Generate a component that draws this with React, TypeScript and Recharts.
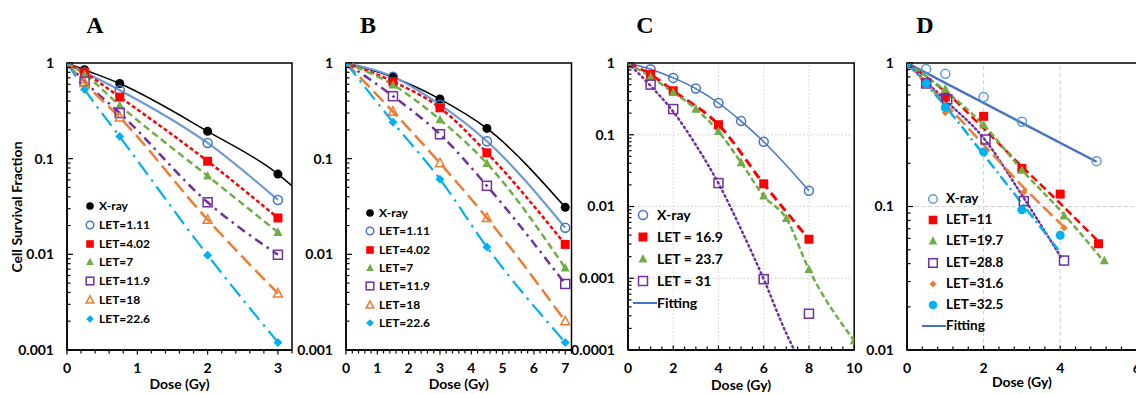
import React from 'react';
import { ComposedChart, Line, Scatter, XAxis, YAxis, ReferenceArea, ReferenceLine } from 'recharts';

type Pt = { x: number; y: number };
type Kind = 'dot' | 'ring' | 'square' | 'box' | 'tri' | 'otri' | 'diamond' | 'sdiamond';

// ---- panel A ----
const doseA = [0, 0.25, 0.75, 2, 3];
const aXray = [1, 0.85, 0.61, 0.193, 0.069];
const aXrayFitDose = [0, 0.25, 0.75, 2, 3, 3.2];
const aXrayFit = [1, 0.85, 0.61, 0.193, 0.069, 0.052];
const aLet111 = [1, 0.8, 0.52, 0.146, 0.037];
const aLet402 = [1, 0.79, 0.44, 0.094, 0.024];
const aLet7 = [1, 0.76, 0.36, 0.066, 0.017];
const aLet119 = [1, 0.64, 0.3, 0.035, 0.0099];
const aLet18 = [1, 0.62, 0.27, 0.023, 0.0039];
const aLet226 = [1, 0.53, 0.17, 0.0098, 0.0012];

// ---- panel B ----
const doseB = [0, 1.5, 3, 4.5, 7];
const bXray = [1, 0.71, 0.42, 0.207, 0.031];
const bLet111 = [1, 0.72, 0.367, 0.152, 0.019];
const bLet402 = [1, 0.64, 0.34, 0.115, 0.0127];
const bLet7 = [1, 0.59, 0.256, 0.089, 0.0072];
const bLet119 = [1, 0.45, 0.18, 0.052, 0.0049];
const bLet18 = [1, 0.31, 0.09, 0.024, 0.002];
const bLet226 = [1, 0.24, 0.061, 0.0119, 0.0012];

// ---- panel C ----
const cXrayDose = [0, 1, 2, 3, 4, 5, 6, 8];
const cXray = [1, 0.82, 0.62, 0.44, 0.277, 0.155, 0.08, 0.0166];
const cLet169Dose = [0, 1, 2, 4, 6, 8];
const cLet169 = [1, 0.69, 0.41, 0.138, 0.0207, 0.0035];
const cLet237Dose = [0, 1, 2, 3, 4, 5, 6, 7, 8, 10];
const cLet237 = [1, 0.64, 0.39, 0.228, 0.111, 0.041, 0.014, 0.0068, 0.00133, 0.000135];
const cLet31Dose = [0, 1, 2, 4, 6, 8];
const cLet31 = [1, 0.5, 0.228, 0.0212, 0.00097, 0.00032];
const cLet31FitDose = [0, 1, 2, 3, 4, 5, 6, 7, 7.35];
const cLet31Fit = [1, 0.48, 0.21, 0.072, 0.021, 0.0048, 0.00097, 0.00017, 0.0001];

// ---- panel D ----
const dXrayDose = [0, 0.5, 1, 2, 3, 4.95];
const dXray = [1, 0.91, 0.84, 0.58, 0.39, 0.207];
const dXrayFitDose = [0, 4.95];
const dXrayFit = [1, 0.205];
const dLet11Dose = [0, 0.5, 1, 2, 3, 4, 5];
const dLet11 = [1, 0.73, 0.58, 0.425, 0.184, 0.122, 0.055];
const dLet11FitDose = [0, 1, 2, 3, 4, 5];
const dLet11Fit = [1, 0.63, 0.35, 0.19, 0.105, 0.057];
const dLet197Dose = [0, 0.5, 1, 2, 3, 4.1, 5.15];
const dLet197 = [1, 0.74, 0.66, 0.37, 0.179, 0.086, 0.042];
const dLet197FitDose = [0, 1, 2, 3, 4.1, 5.15];
const dLet197Fit = [1, 0.64, 0.37, 0.18, 0.088, 0.041];
const dLet288Dose = [0, 0.5, 1.05, 2.05, 3.05, 4.1];
const dLet288 = [1, 0.72, 0.56, 0.293, 0.109, 0.042];
const dLet288FitDose = [0, 1, 2, 3, 4.05];
const dLet288Fit = [1, 0.55, 0.3, 0.12, 0.043];
const dLet316Dose = [0, 0.5, 1, 3.05, 4.1];
const dLet316 = [1, 0.72, 0.45, 0.126, 0.071];
const dLet316FitDose = [0, 1, 2, 3, 4.15];
const dLet316Fit = [1, 0.52, 0.27, 0.14, 0.07];
const dLet325Dose = [0, 0.5, 1, 2, 3, 4];
const dLet325 = [1, 0.72, 0.49, 0.24, 0.095, 0.063];
const dLet325FitDose = [0, 1, 2, 3, 3.95];
const dLet325Fit = [1, 0.5, 0.23, 0.105, 0.05];

const zip = (xs: number[], ys: number[]): Pt[] => xs.map((x, i) => ({ x, y: ys[i] }));

const FONT = 'Lato, "Open Sans", sans-serif';
const TOP = 63;
const BOTTOM = 350;
const YW = 60;
const RM = 14; // extra room right of the plot so the last tick label is not clipped

const BLACK = '#000000';
const RED = '#ff0000';
const GREEN = '#70ad47';
const PURPLE = '#7030a0';
const ORANGE = '#ed7d31';
const CYAN = '#00b0f0';
const FITBLUE = '#4472c4';

interface Series {
  name: string;
  color: string;
  marker: Kind;
  pts: Pt[];
  fit?: Pt[];
  dash?: string;
  width?: number;
  lineColor?: string;
}

interface Panel {
  letter: string;
  letterX: number;
  left: number;
  right: number;
  xMax: number;
  xMajor: number[];
  xStep: number;
  yMin: number;
  ticksIn: boolean;
  labelOffset: number;
  series: Series[];
  gridX?: number[];
  gridY?: number[];
  gridDash?: string;
  legend: { mx: number; tx: number; y: number; gap: number; font: number; size: number; fitting?: string };
}

const abSeries = (dose: number[], v: number[][], xrayFit?: Pt[]): Series[] => [
  { name: 'X-ray', color: BLACK, marker: 'dot', pts: zip(dose, v[0]), fit: xrayFit, width: 1.5 },
  { name: 'LET=1.11', color: '#4472c4', lineColor: '#6a9bd8', marker: 'ring', pts: zip(dose, v[1]), width: 2.2 },
  { name: 'LET=4.02', color: RED, marker: 'square', pts: zip(dose, v[2]), dash: '4 2.5', width: 2.5 },
  { name: 'LET=7', color: GREEN, marker: 'tri', pts: zip(dose, v[3]), dash: '7 4', width: 2.5 },
  { name: 'LET=11.9', color: PURPLE, marker: 'box', pts: zip(dose, v[4]), dash: '9 5 2.5 5', width: 2.5 },
  { name: 'LET=18', color: ORANGE, marker: 'otri', pts: zip(dose, v[5]), dash: '14 6', width: 2.5 },
  { name: 'LET=22.6', color: CYAN, marker: 'diamond', pts: zip(dose, v[6]), dash: '16 6 2.5 6', width: 2.2 },
];

const panels: Panel[] = [
  {
    letter: 'A', letterX: 95, left: 67, right: 292, xMax: 3.2, xMajor: [0, 1, 2, 3], xStep: 0.2,
    yMin: 0.001, ticksIn: false, labelOffset: 5,
    series: abSeries(doseA, [aXray, aLet111, aLet402, aLet7, aLet119, aLet18, aLet226], zip(aXrayFitDose, aXrayFit)),
    legend: { mx: 90, tx: 99, y: 206, gap: 18.8, font: 12, size: 3.8 },
  },
  {
    letter: 'B', letterX: 368, left: 345.5, right: 571, xMax: 7.2, xMajor: [0, 1, 2, 3, 4, 5, 6, 7], xStep: 0.2,
    yMin: 0.001, ticksIn: false, labelOffset: 5,
    series: abSeries(doseB, [bXray, bLet111, bLet402, bLet7, bLet119, bLet18, bLet226]),
    legend: { mx: 370, tx: 379, y: 213, gap: 18.3, font: 12, size: 3.8 },
  },
  {
    letter: 'C', letterX: 645, left: 628.3, right: 854.5, xMax: 10, xMajor: [0, 2, 4, 6, 8, 10], xStep: 0.5,
    yMin: 0.0001, ticksIn: true, labelOffset: 4,
    gridX: [2, 4, 6, 8], gridY: [0.1, 0.01, 0.001], gridDash: '1.5 2',
    series: [
      { name: 'X-ray', color: FITBLUE, marker: 'ring', pts: zip(cXrayDose, cXray), width: 1.5 },
      { name: 'LET = 16.9', color: RED, marker: 'square', pts: zip(cLet169Dose, cLet169), dash: '9 5', width: 3 },
      { name: 'LET = 23.7', color: GREEN, marker: 'tri', pts: zip(cLet237Dose, cLet237), dash: '6 3', width: 2.5 },
      { name: 'LET = 31', color: PURPLE, marker: 'box', pts: zip(cLet31Dose, cLet31), fit: zip(cLet31FitDose, cLet31Fit), dash: '1.5 3.5', width: 2.5 },
    ],
    legend: { mx: 643, tx: 657, y: 215, gap: 22, font: 14, size: 4.5, fitting: FITBLUE },
  },
  {
    letter: 'D', letterX: 925, left: 906.7, right: 1136.5, xMax: 6, xMajor: [0, 2, 4, 6], xStep: 0.4,
    yMin: 0.01, ticksIn: true, labelOffset: 7,
    gridX: [2, 4], gridY: [0.1], gridDash: '4 3',
    series: [
      { name: 'X-ray', color: '#5b9bd5', lineColor: FITBLUE, marker: 'ring', pts: zip(dXrayDose, dXray), fit: zip(dXrayFitDose, dXrayFit), width: 2.5 },
      { name: 'LET=11', color: RED, marker: 'square', pts: zip(dLet11Dose, dLet11), fit: zip(dLet11FitDose, dLet11Fit), dash: '8 4', width: 2.5 },
      { name: 'LET=19.7', color: GREEN, marker: 'tri', pts: zip(dLet197Dose, dLet197), fit: zip(dLet197FitDose, dLet197Fit), dash: '6 3', width: 2.5 },
      { name: 'LET=28.8', color: PURPLE, marker: 'box', pts: zip(dLet288Dose, dLet288), fit: zip(dLet288FitDose, dLet288Fit), dash: '1.5 3', width: 2.5 },
      { name: 'LET=31.6', color: ORANGE, marker: 'sdiamond', pts: zip(dLet316Dose, dLet316), fit: zip(dLet316FitDose, dLet316Fit), dash: '13 5', width: 2.5 },
      { name: 'LET=32.5', color: CYAN, marker: 'dot', pts: zip(dLet325Dose, dLet325), fit: zip(dLet325FitDose, dLet325Fit), dash: '11 4 2 4', width: 2.5 },
    ],
    legend: { mx: 933, tx: 946, y: 199, gap: 21.2, font: 13.5, size: 4.3, fitting: FITBLUE },
  },
];

function Mark({ kind, color, cx, cy, s = 4.5 }: { kind: Kind; color: string; cx: number; cy: number; s?: number }) {
  const sw = 1.5;
  switch (kind) {
    case 'dot':
      return <circle cx={cx} cy={cy} r={s} fill={color} />;
    case 'ring':
      return <circle cx={cx} cy={cy} r={s} fill="none" stroke={color} strokeWidth={sw} />;
    case 'square':
      return <rect x={cx - s} y={cy - s} width={2 * s} height={2 * s} fill={color} />;
    case 'box':
      return <rect x={cx - s} y={cy - s} width={2 * s} height={2 * s} fill="none" stroke={color} strokeWidth={sw} />;
    case 'tri':
    case 'otri': {
      const pts = `${cx},${cy - s * 1.1} ${cx + s},${cy + s * 0.8} ${cx - s},${cy + s * 0.8}`;
      return kind === 'tri'
        ? <polygon points={pts} fill={color} />
        : <polygon points={pts} fill="none" stroke={color} strokeWidth={sw} />;
    }
    case 'diamond':
    case 'sdiamond': {
      const r = kind === 'diamond' ? s : s * 0.8;
      return <polygon points={`${cx},${cy - r} ${cx + r},${cy} ${cx},${cy + r} ${cx - r},${cy}`} fill={color} />;
    }
  }
  return null;
}

const xTicksFor = (max: number, step: number) =>
  Array.from({ length: Math.round(max / step) + 1 }, (_, i) => +(i * step).toFixed(3));

const yTicksFor = (min: number) => {
  const out: number[] = [];
  for (let e = Math.round(Math.log10(min)); e < 0; e++) {
    for (let m = 1; m < 10; m++) out.push(+(m * Math.pow(10, e)).toPrecision(3));
  }
  out.push(1);
  return out;
};

const isDecade = (v: number) => Math.abs(Math.log10(v) - Math.round(Math.log10(v))) < 1e-9;

function PanelChart({ p }: { p: Panel }) {
  const L = p.left - YW;
  const W = p.right - L + RM;
  const xTicks = xTicksFor(p.xMax, p.xStep);
  const yTicks = yTicksFor(p.yMin);
  const dir = p.ticksIn ? -1 : 1;

  const renderXTick = (props: any) => {
    const { x, payload } = props;
    const v = payload.value as number;
    const major = p.xMajor.some((m) => Math.abs(m - v) < 1e-6);
    return (
      <g>
        <line x1={x} x2={x} y1={BOTTOM} y2={BOTTOM + dir * (major ? 4.5 : 3.5)} stroke="#000" strokeWidth={1.2} />
        {major && (
          <text x={x} y={BOTTOM + 23} textAnchor="middle" fontSize={14} fontWeight={700} fontFamily={FONT} fill="#000">
            {v}
          </text>
        )}
      </g>
    );
  };

  const renderYTick = (props: any) => {
    const { y, payload } = props;
    const v = payload.value as number;
    const major = isDecade(v);
    return (
      <g>
        <line x1={YW} x2={YW + (major ? 6 : 3.5)} y1={y} y2={y} stroke="#000" strokeWidth={1.2} />
        {major && (
          <text x={YW - 13} y={y + 5} textAnchor="end" fontSize={14} fontWeight={700} fontFamily={FONT} fill="#000">
            {String(v)}
          </text>
        )}
      </g>
    );
  };

  return (
    <div style={{ position: 'absolute', left: L, top: 0 }}>
      <ComposedChart width={W} height={394} margin={{ top: TOP, right: RM, bottom: 0, left: 0 }}>
        <XAxis
          dataKey="x"
          type="number"
          domain={[0, p.xMax]}
          ticks={xTicks}
          interval={0}
          allowDataOverflow
          height={394 - BOTTOM}
          tickSize={0}
          tickMargin={0}
          tickLine={false}
          tick={renderXTick}
          axisLine={{ stroke: '#000', strokeWidth: 1.5 }}
          label={{ value: 'Dose (Gy)', position: 'insideBottom', offset: p.labelOffset, fill: '#000', fontSize: 14, fontWeight: 700, fontFamily: FONT }}
        />
        <YAxis
          dataKey="y"
          type="number"
          scale="log"
          domain={[p.yMin, 1]}
          ticks={yTicks}
          interval={0}
          allowDataOverflow
          width={YW}
          tickSize={0}
          tickMargin={0}
          tickLine={false}
          tick={renderYTick}
          axisLine={{ stroke: '#000', strokeWidth: 1.5 }}
        />
        {(p.gridX || []).map((g) => (
          <ReferenceLine key={`gx${g}`} x={g} stroke="#d0d0d0" strokeDasharray={p.gridDash} />
        ))}
        {(p.gridY || []).map((g) => (
          <ReferenceLine key={`gy${g}`} y={g} stroke="#d0d0d0" strokeDasharray={p.gridDash} />
        ))}
        <ReferenceArea x1={0} x2={p.xMax} y1={p.yMin} y2={1} fill="none" stroke="#000" strokeWidth={1.5} />
        {p.series.map((s) => (
          <Line
            key={`l-${s.name}`}
            data={s.fit || s.pts}
            dataKey="y"
            type="monotone"
            stroke={s.lineColor || s.color}
            strokeWidth={s.width || 2}
            strokeDasharray={s.dash}
            strokeLinecap={s.dash && s.dash.startsWith('1.5') ? 'round' : 'butt'}
            dot={false}
            activeDot={false}
            isAnimationActive={false}
          />
        ))}
        {p.series.map((s) => (
          <Scatter
            key={`s-${s.name}`}
            data={s.pts}
            dataKey="y"
            isAnimationActive={false}
            shape={(props: any) => <Mark kind={s.marker} color={s.color} cx={props.cx} cy={props.cy} />}
          />
        ))}
      </ComposedChart>
    </div>
  );
}

function Legend({ p }: { p: Panel }) {
  const lg = p.legend;
  const textStyle = (y: number): React.CSSProperties => ({
    position: 'absolute', left: lg.tx, top: y, transform: 'translateY(-50%)', lineHeight: 1,
    fontFamily: FONT, fontWeight: 700, fontSize: lg.font, whiteSpace: 'nowrap', color: '#000',
  });
  const fitY = lg.y + p.series.length * lg.gap;
  return (
    <>
      {p.series.map((s, i) => {
        const y = lg.y + i * lg.gap;
        return (
          <React.Fragment key={s.name}>
            <svg style={{ position: 'absolute', left: lg.mx - 7, top: y - 7 }} width={14} height={14}>
              <Mark kind={s.marker} color={s.color} cx={7} cy={7} s={lg.size} />
            </svg>
            <div style={textStyle(y)}>{s.name}</div>
          </React.Fragment>
        );
      })}
      {lg.fitting && (
        <>
          <svg style={{ position: 'absolute', left: lg.tx - 24, top: fitY - 3 }} width={24} height={6}>
            <line x1={0} x2={24} y1={3} y2={3} stroke={lg.fitting} strokeWidth={2} />
          </svg>
          <div style={textStyle(fitY)}>Fitting</div>
        </>
      )}
    </>
  );
}

export default function App() {
  return (
    <div
      style={{
        position: 'absolute', left: 0, top: 0, width: 1136, height: 394, overflow: 'hidden', background: '#fff',
      }}
    >
      {panels.map((p) => (
        <PanelChart key={p.letter} p={p} />
      ))}
      {panels.map((p) => (
        <Legend key={`lg${p.letter}`} p={p} />
      ))}
      {panels.map((p) => (
        <div
          key={`t${p.letter}`}
          style={{
            position: 'absolute', left: p.letterX, top: 25, transform: 'translate(-50%, -50%)',
            fontFamily: '"Liberation Serif", "Times New Roman", serif', fontWeight: 700, fontSize: 24, lineHeight: 1,
          }}
        >
          {p.letter}
        </div>
      ))}
      <div
        style={{
          position: 'absolute', left: 17, top: 207, transform: 'translate(-50%, -50%) rotate(-90deg)',
          fontFamily: FONT, fontWeight: 700, fontSize: 14, whiteSpace: 'nowrap', lineHeight: 1,
        }}
      >
        Cell Survival Fraction
      </div>
    </div>
  );
}
